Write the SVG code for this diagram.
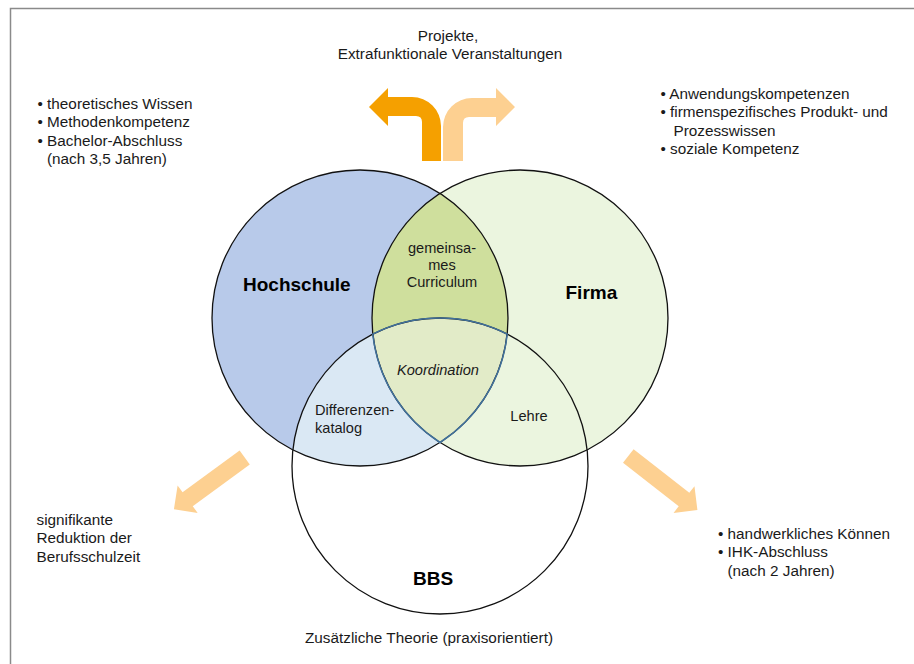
<svg xmlns="http://www.w3.org/2000/svg" width="914" height="664" viewBox="0 0 914 664">
<style>
text{font-family:"Liberation Sans",Arial,sans-serif;fill:#1a1a1a;font-size:15.3px}
.b{font-weight:bold;font-size:19px;fill:#000}
.s{font-size:14.6px}
.m{text-anchor:middle}
.ol{fill:none;stroke:#111;stroke-width:1.3}
</style>
<defs>
<clipPath id="cH"><circle cx="360" cy="318" r="148"/></clipPath>
<clipPath id="cF"><circle cx="520" cy="318" r="148"/></clipPath>
<clipPath id="cB"><circle cx="440" cy="466" r="148"/></clipPath>
<path id="arr" d="M0,-8.6 L70.7,-8.6 L70.7,-17 L87.7,0 L70.7,17 L70.7,8.6 L0,8.6 Z"/>
</defs>
<rect x="0" y="0" width="914" height="664" fill="#fff"/>
<rect x="10.5" y="8.5" width="920" height="680" fill="none" stroke="#8a8a8a" stroke-width="1.5"/>

<g id="regions">
<circle cx="440" cy="466" r="148" fill="#fff"/>
<circle cx="360" cy="318" r="148" fill="#b8caea"/>
<circle cx="520" cy="318" r="148" fill="#ebf5df"/>
<circle cx="360" cy="318" r="148" fill="#cfdf9d" clip-path="url(#cF)"/>
<circle cx="360" cy="318" r="148" fill="#dae8f4" clip-path="url(#cB)"/>
<path d="M372.8,334.1 A148,148 0 0 1 507.2,334.1 A148,148 0 0 1 440,442.5 A148,148 0 0 1 372.8,334.1 Z" fill="#e2ebc8"/>
</g>

<g id="hochschule">
<circle class="ol" cx="360" cy="318" r="148"/>
<text class="b" x="243" y="291">Hochschule</text>
</g>
<g id="firma">
<circle class="ol" cx="520" cy="318" r="148"/>
<text class="b" x="565.5" y="298.5">Firma</text>
</g>
<g id="bbs">
<circle class="ol" cx="440" cy="466" r="148"/>
<text class="b m" x="433" y="584.5">BBS</text>
</g>
<g id="koordination">
<path d="M372.8,334.1 A148,148 0 0 1 507.2,334.1 A148,148 0 0 1 440,442.5 A148,148 0 0 1 372.8,334.1 Z" fill="none" stroke="#41719c" stroke-width="1.5"/>
<text class="s m" x="438" y="375" font-style="italic">Koordination</text>
</g>
<g id="curriculum">
<text class="s m" x="442" y="253">gemeinsa-</text>
<text class="s m" x="442" y="269.5">mes</text>
<text class="s m" x="442" y="286.5">Curriculum</text>
</g>
<g id="differenzen">
<text class="s" x="315" y="415">Differenzen-</text>
<text class="s" x="315" y="433">katalog</text>
</g>
<g id="lehre">
<text class="s m" x="529" y="421">Lehre</text>
</g>

<g id="connectors">
<path d="M422,161 L422,122 Q422,116 416,116 L388,116 L388,126 L369,107 L388,88 L388,97 L412,97 A29,29 0 0 1 441,126 L441,161 Z" fill="#f5a000"/>
<path d="M463,161 L463,123 Q463,117 469,117 L496,117 L496,126 L515,107 L496,88 L496,98 L472,98 A29,29 0 0 0 443,127 L443,161 Z" fill="#fdd091"/>
<use href="#arr" fill="#fdd091" transform="translate(244.7,457.5) rotate(143.8)"/>
<use href="#arr" fill="#fdd091" transform="translate(628.3,456) rotate(38)"/>
</g>

<g id="top-label">
<text class="m" x="448" y="40.5">Projekte,</text>
<text class="m" x="450" y="58.5">Extrafunktionale Veranstaltungen</text>
</g>
<g id="hochschule-notes">
<text x="37.5" y="108.5">• theoretisches Wissen</text>
<text x="37.5" y="127">• Methodenkompetenz</text>
<text x="37.5" y="145.5">• Bachelor-Abschluss</text>
<text x="47" y="164">(nach 3,5 Jahren)</text>
</g>
<g id="firma-notes">
<text x="660.5" y="98.5">• Anwendungskompetenzen</text>
<text x="660.5" y="117">• firmenspezifisches Produkt- und</text>
<text x="673.5" y="135.5">Prozesswissen</text>
<text x="660.5" y="154">• soziale Kompetenz</text>
</g>
<g id="left-notes">
<text x="36.5" y="524.5">signifikante</text>
<text x="36.5" y="543">Reduktion der</text>
<text x="36.5" y="561.5">Berufsschulzeit</text>
</g>
<g id="right-notes">
<text x="718" y="538.5">• handwerkliches Können</text>
<text x="718" y="557">• IHK-Abschluss</text>
<text x="727.5" y="575.5">(nach 2 Jahren)</text>
</g>
<g id="bottom-label">
<text class="m" x="429" y="642.5">Zusätzliche Theorie (praxisorientiert)</text>
</g>
</svg>
